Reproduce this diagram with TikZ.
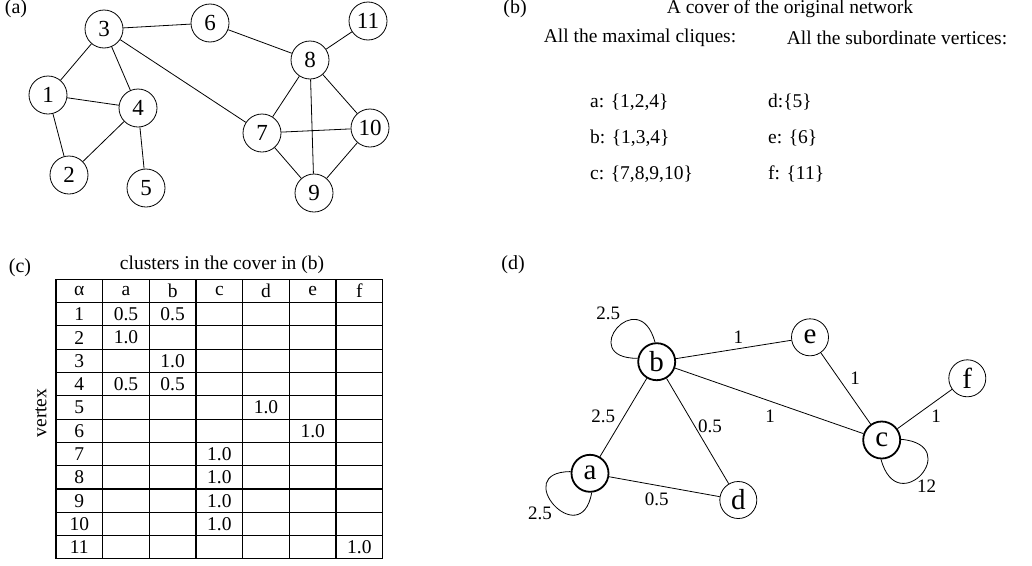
\documentclass[tikz,border=0pt]{standalone}
\usepackage{fontspec}
\setmainfont{Liberation Serif}
\begin{document}
\begin{tikzpicture}[x=1pt,y=-1pt,
  vnode/.style={circle,draw,minimum size=38pt,inner sep=0pt,line width=0.8pt,font=\fontsize{23}{23}\selectfont},
  cnode/.style={circle,draw,minimum size=37pt,inner sep=0pt,line width=0.8pt,font=\fontsize{29}{29}\selectfont},
  heavy/.style={line width=1.8pt},
  lbl/.style={inner sep=0pt,font=\fontsize{20}{20}\selectfont},
  txt/.style={inner sep=0pt,font=\fontsize{19.5}{20}\selectfont},
  wl/.style={inner sep=0pt,font=\fontsize{19}{19}\selectfont},
  cell/.style={inner sep=0pt,font=\fontsize{19.5}{19.5}\selectfont},
  edge/.style={line width=0.8pt},
  grid/.style={line width=1.1pt}]
\useasboundingbox (0,0) rectangle (1032,565);

% ---------- (a) ----------
\node[lbl] (la) at (16,9) {(a)};
\node[vnode] (n3) at (104,29) {3};
\node[vnode] (n6) at (210,23) {6};
\node[vnode] (n11) at (368,21) {11};
\node[vnode] (n8) at (310,60) {8};
\node[vnode] (n1) at (48,95) {1};
\node[vnode] (n4) at (138,108) {4};
\node[vnode] (n7) at (262,133) {7};
\node[vnode] (n10) at (370,128) {10};
\node[vnode] (n2) at (69,175) {2};
\node[vnode] (n5) at (146,188) {5};
\node[vnode] (n9) at (314,193) {9};
\draw[edge] (n3)--(n6) (n6)--(n8) (n8)--(n11) (n3)--(n1) (n3)--(n4) (n3)--(n7)
  (n1)--(n4) (n1)--(n2) (n4)--(n2) (n4)--(n5) (n8)--(n7) (n8)--(n9) (n8)--(n10)
  (n7)--(n10) (n7)--(n9) (n10)--(n9);

% ---------- (b) ----------
\node[lbl] (lb) at (515,9) {(b)};
\node[txt] (bt) at (790,9) {A cover of the original network};
\node[txt] (bh1) at (640,38) {All the maximal cliques:};
\node[txt] (bh2) at (897,38) {All the subordinate vertices:};
\node[txt,anchor=west] (ba) at (590,102) {a: \{1,2,4\}};
\node[txt,anchor=west] (bb) at (590,138) {b: \{1,3,4\}};
\node[txt,anchor=west] (bc) at (590,174) {c: \{7,8,9,10\}};
\node[txt,anchor=west] (bd) at (768,102) {d:\{5\}};
\node[txt,anchor=west] (be) at (768,138) {e: \{6\}};
\node[txt,anchor=west] (bf) at (768,174) {f: \{11\}};

% ---------- (c) ----------
\node[lbl] (lc) at (20,268) {(c)};
\node[txt] (ct) at (222,265) {clusters in the cover in (b)};
\node[txt,rotate=90] (cv) at (41,413) {vertex};
\def\xo{56}\def\cw{46.67}\def\yo{279.3}\def\rh{23.3}
\foreach \i in {0,...,7} \draw[grid] ({\xo+\i*\cw},\yo) -- ({\xo+\i*\cw},{\yo+12*\rh});
\foreach \j in {0,...,12} \draw[grid] (\xo,{\yo+\j*\rh}) -- ({\xo+7*\cw},{\yo+\j*\rh});
\foreach \t [count=\i from 0] in {α,a,b,c,d,e,f}
  \node[cell] (h\i) at ({\xo+(\i+0.5)*\cw},{\yo+0.5*\rh}) {\t};
\foreach \r in {1,...,11}
  \node[cell] (r\r) at ({\xo+0.5*\cw},{\yo+(\r+0.5)*\rh}) {\r};
\foreach \r/\c/\v in {1/1/0.5,1/2/0.5,2/1/1.0,3/2/1.0,4/1/0.5,4/2/0.5,5/4/1.0,6/5/1.0,7/3/1.0,8/3/1.0,9/3/1.0,10/3/1.0,11/6/1.0}
  \node[cell] (v\r-\c) at ({\xo+(\c+0.5)*\cw},{\yo+(\r+0.5)*\rh}) {\v};

% ---------- (d) ----------
\node[lbl] (ld) at (513,265) {(d)};
\node[cnode,heavy] (b) at (656.7,361.7) {b};
\node[cnode] (e) at (810,337.3) {e};
\node[cnode] (f) at (967.3,378.3) {f};
\node[cnode,heavy] (c) at (881.7,440) {c};
\node[cnode,heavy] (a) at (590,473.3) {a};
\node[cnode] (d) at (738.3,500) {d};
\draw[edge] (b)--(e) (b)--(c) (b)--(a) (b)--(d) (e)--(c) (c)--(f) (a)--(d);
\draw[edge] (b.95) to[out=105,in=180,distance=62pt] (b.170);
\draw[edge] (a.175) to[out=180,in=-100,distance=62pt] (a.-85);
\draw[edge] (c.2) to[out=-5,in=-75,distance=64pt] (c.-92);
\node[wl] (w1) at (608.3,313.3) {2.5};
\node[wl] (w2) at (738.3,337.3) {1};
\node[wl] (w3) at (855,378.3) {1};
\node[wl] (w4) at (770,416.7) {1};
\node[wl] (w5) at (936,416.7) {1};
\node[wl] (w6) at (603.3,416.7) {2.5};
\node[wl] (w7) at (710,426) {0.5};
\node[wl] (w8) at (656.7,499.3) {0.5};
\node[wl] (w9) at (540,513.3) {2.5};
\node[wl] (w10) at (926.7,486) {12};
\end{tikzpicture}
\end{document}
